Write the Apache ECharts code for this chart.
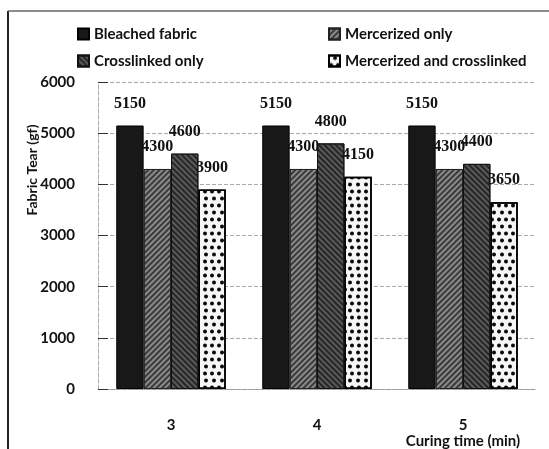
<!DOCTYPE html>
<html>
<head>
<meta charset="utf-8">
<script src="https://cdn.jsdelivr.net/npm/echarts@6/dist/echarts.min.js"></script>
<style>
  html, body { margin: 0; padding: 0; background: #fff; }
  #tearChart { width: 549px; height: 449px; }
</style>
</head>
<body>
<div id="tearChart"></div>
<script>
// curing time (min)
const categories = ['3', '4', '5']
// fabric tear (gf)
const bleachedFabric = [5150, 5150, 5150]
const mercerizedOnly = [4300, 4300, 4300]
const crosslinkedOnly = [4600, 4800, 4400]
const mercerizedCrosslinked = [3900, 4150, 3650]
const yMax = 6000
const yStep = 1000

const sansFont = 'Lato'
const labelStyle = {
  show: true,
  position: 'top',
  distance: 14,
  color: '#111',
  fontFamily: 'Liberation Serif',
  fontWeight: 'bold',
  fontSize: 16
}
const legendText = { color: '#111', fontWeight: 'bold', fontSize: 15, lineHeight: 16, fontFamily: sansFont }

const chart = echarts.init(document.getElementById('tearChart'))

const option = {
  backgroundColor: '#fff',
  animation: false,
  textStyle: { fontFamily: sansFont },
  legend: [
    {
      data: ['Bleached fabric', 'Crosslinked only'],
      orient: 'vertical',
      icon: 'rect',
      left: 72,
      top: 21,
      itemWidth: 11,
      itemHeight: 11,
      itemGap: 11,
      textStyle: legendText
    },
    {
      data: ['Mercerized only', 'Mercerized and crosslinked'],
      orient: 'vertical',
      icon: 'rect',
      left: 323,
      top: 21,
      itemWidth: 11,
      itemHeight: 11,
      itemGap: 11,
      textStyle: legendText
    }
  ],
  grid: {
    left: 98,
    right: 13,
    top: 82,
    bottom: 60
  },
  xAxis: {
    type: 'category',
    data: categories,
    axisTick: { show: false },
    axisLine: { lineStyle: { color: '#999', type: 'dotted' } },
    axisLabel: {
      margin: 29,
      color: '#111',
      fontWeight: 'bold',
      fontSize: 15
    }
  },
  yAxis: {
    type: 'value',
    min: 0,
    max: yMax,
    interval: yStep,
    axisLine: { show: true, lineStyle: { color: '#aaa', type: 'dashed' } },
    axisTick: { show: true, inside: true, length: 10, lineStyle: { color: '#333' } },
    splitLine: { lineStyle: { color: '#aaa', type: 'dashed' } },
    axisLabel: {
      margin: 23,
      color: '#111',
      fontWeight: 'bold',
      fontSize: 15,
      formatter: (v) => String(v)
    }
  },
  series: [
    {
      name: 'Bleached fabric',
      type: 'bar',
      barGap: 0,
      barCategoryGap: '25%',
      data: bleachedFabric,
      itemStyle: { color: '#181818', borderColor: '#000', borderWidth: 1 },
      label: labelStyle
    },
    {
      name: 'Mercerized only',
      type: 'bar',
      data: mercerizedOnly,
      itemStyle: {
        color: '#8a8a8a',
        borderColor: '#222',
        borderWidth: 1,
        decal: {
          symbol: 'rect',
          color: '#3a3a3a',
          dashArrayX: [1, 0],
          dashArrayY: [1.5, 2],
          rotation: -Math.PI / 4
        }
      },
      label: labelStyle
    },
    {
      name: 'Crosslinked only',
      type: 'bar',
      data: crosslinkedOnly,
      itemStyle: {
        color: '#5a5a5a',
        borderColor: '#111',
        borderWidth: 1,
        decal: {
          symbol: 'rect',
          color: '#262626',
          dashArrayX: [1, 0],
          dashArrayY: [2, 2],
          rotation: Math.PI / 4
        }
      },
      label: labelStyle
    },
    {
      name: 'Mercerized and crosslinked',
      type: 'bar',
      data: mercerizedCrosslinked,
      itemStyle: {
        color: '#f6f6f6',
        borderColor: '#000',
        borderWidth: 1.5,
        decal: {
          symbol: 'circle',
          color: '#0a0a0a',
          symbolSize: 1,
          symbolKeepAspect: false,
          dashArrayX: [[3.5, 3], [0, 3.25, 3.5, 0]],
          dashArrayY: [5, 1.5]
        }
      },
      label: labelStyle
    }
  ],
  graphic: [
    {
      type: 'text',
      x: 32,
      y: 170,
      rotation: Math.PI / 2,
      style: {
        text: 'Fabric Tear (gf)',
        align: 'center',
        verticalAlign: 'middle',
        fill: '#111',
        fontFamily: sansFont,
        fontWeight: 'bold',
        fontSize: 14
      }
    },
    {
      type: 'text',
      x: 463,
      y: 441,
      style: {
        text: 'Curing time (min)',
        align: 'center',
        verticalAlign: 'middle',
        fill: '#111',
        fontFamily: sansFont,
        fontWeight: 'bold',
        fontSize: 15
      }
    },
    // scanned frame edges
    {
      type: 'line',
      shape: { x1: 8, y1: 11, x2: 8, y2: 449 },
      style: { stroke: '#222', lineWidth: 2 }
    },
    {
      type: 'line',
      shape: { x1: 8, y1: 11, x2: 549, y2: 11 },
      style: { stroke: '#666', lineWidth: 1.5 }
    }
  ]
}

chart.setOption(option)
</script>
</body>
</html>
